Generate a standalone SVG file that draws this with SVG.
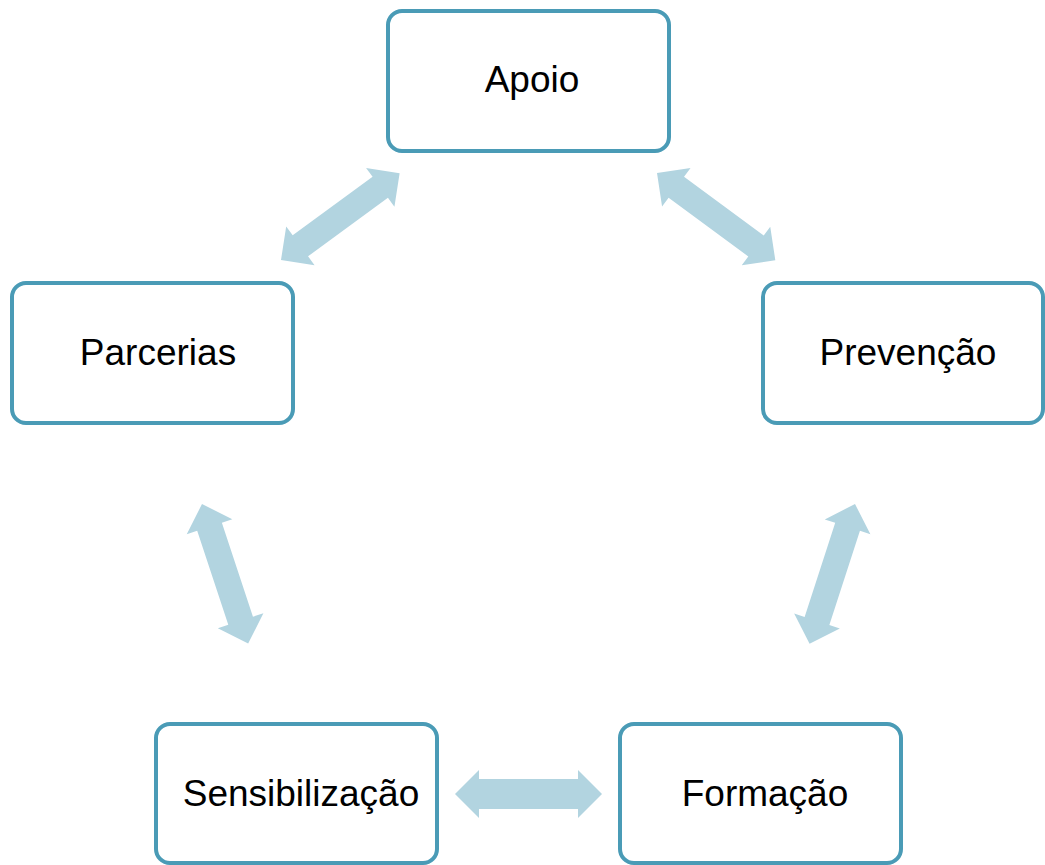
<svg xmlns="http://www.w3.org/2000/svg" width="1045" height="865" viewBox="0 0 1045 865">
<style>
.box{fill:#ffffff;stroke:#4a9bb6;stroke-width:4}
.lbl{font-family:"Liberation Sans",Arial,sans-serif;font-size:37px;fill:#000000;text-anchor:middle}
.arr{fill:#b2d4e0}
</style>
<defs>
<polygon id="dArr" points="0,0 24,-24 24,-13 123,-13 123,-24 147,0 123,24 123,13 24,13 24,24"/>
<polygon id="dArrH" points="0,0 24,-24 24,-15 123,-15 123,-24 147,0 123,24 123,15 24,15 24,24"/>
</defs>
<rect width="1045" height="865" fill="#ffffff"/>
<g id="connectors" class="arr">
<use href="#dArr" transform="translate(281,260) rotate(-36.2)"/>
<use href="#dArr" transform="translate(657,173) rotate(36.4)"/>
<use href="#dArr" transform="translate(202,504) rotate(71.7)"/>
<use href="#dArr" transform="translate(855,504) rotate(108)"/>
<use href="#dArrH" transform="translate(455,794)"/>
</g>
<g id="apoio"><rect class="box" x="388" y="11" width="281" height="140" rx="14"/><text class="lbl" x="532" y="92">Apoio</text></g>
<g id="parcerias"><rect class="box" x="12" y="283" width="281" height="140" rx="14"/><text class="lbl" x="158" y="365">Parcerias</text></g>
<g id="prevencao"><rect class="box" x="763" y="283" width="280" height="140" rx="14"/><text class="lbl" x="908" y="365">Prevenção</text></g>
<g id="sensibilizacao"><rect class="box" x="156" y="724" width="281" height="139" rx="14"/><text class="lbl" x="301" y="806">Sensibilização</text></g>
<g id="formacao"><rect class="box" x="620" y="724" width="281" height="139" rx="14"/><text class="lbl" x="765" y="806">Formação</text></g>
</svg>
